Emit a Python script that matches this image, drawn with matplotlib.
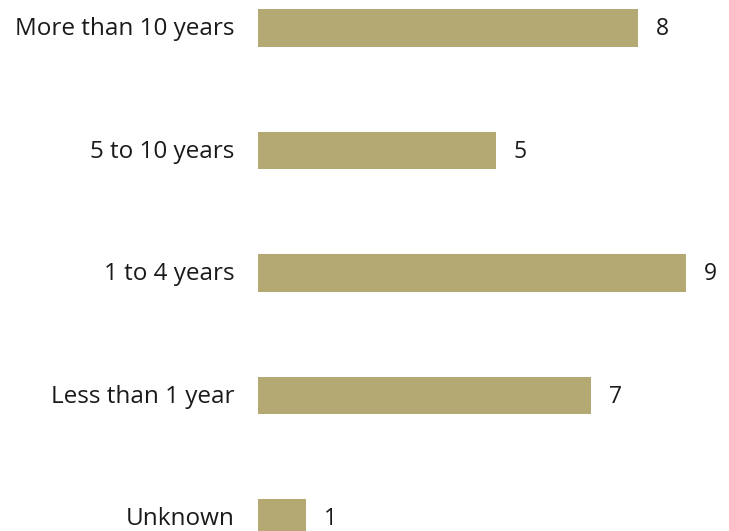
import matplotlib
matplotlib.use("Agg")
import matplotlib.pyplot as plt

categories = ["Unknown", "Less than 1 year", "1 to 4 years", "5 to 10 years", "More than 10 years"]
values = [1, 7, 9, 5, 8]

BAR_COLOR = "#B5A973"
TEXT_COLOR = "#1a1a1a"
FONT = "Open Sans"

fig = plt.figure(figsize=(7.29, 5.31), dpi=100)
ax = fig.add_axes([0, 0, 1, 1])

pos = list(range(len(categories)))
ax.barh(pos, values, height=0.31, color=BAR_COLOR)

# map data to the pixel layout of the original
ax.set_xlim(-258 / 47.5, (729 - 258) / 47.5)
ax.set_ylim(-13 / 122.5, (531 - 13) / 122.5)

for p, v in zip(pos, values):
    ax.text(v + 0.38, p - 0.01, str(v), ha="left", va="center",
            fontsize=16.5, color=TEXT_COLOR, family=FONT)
    ax.text(-0.5, p - 0.01, categories[p], ha="right", va="center",
            fontsize=17.5, color=TEXT_COLOR, family=FONT)

ax.set_axis_off()
fig.savefig("out.png", dpi=100)
